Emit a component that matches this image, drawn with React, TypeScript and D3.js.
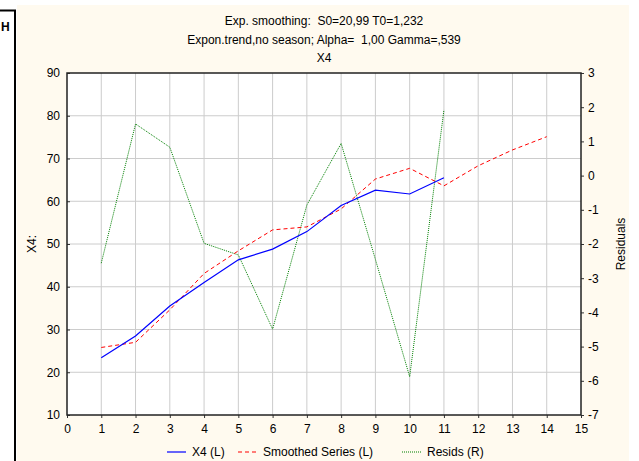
import React, { useEffect, useRef } from 'react';
import * as d3 from 'd3';

// Chart data
const periods: number[] = [1, 2, 3, 4, 5, 6, 7, 8, 9, 10, 11, 12, 13, 14];
const x4Values: number[] = [23.4, 28.5, 35.5, 41.0, 46.3, 48.8, 52.9, 59.0, 62.6, 61.7, 65.5];
const smoothedValues: number[] = [25.8, 27.0, 34.6, 43.1, 48.4, 53.3, 54.0, 58.2, 65.2, 67.7, 63.6, 68.3, 72.0, 75.1];
const residValues: number[] = [-2.56, 1.51, 0.83, -1.98, -2.32, -4.49, -0.86, 0.94, -2.45, -5.88, 1.92];

const xTicks: number[] = [0, 1, 2, 3, 4, 5, 6, 7, 8, 9, 10, 11, 12, 13, 14, 15];
const leftTicks: number[] = [10, 20, 30, 40, 50, 60, 70, 80, 90];
const rightTicks: number[] = [-7, -6, -5, -4, -3, -2, -1, 0, 1, 2, 3];

const titleLines: string[] = [
  'Exp. smoothing:  S0=20,99 T0=1,232',
  'Expon.trend,no season; Alpha=  1,00 Gamma=,539',
  'X4',
];

const legendItems = [
  { label: 'X4 (L)', color: '#0000ff', dash: null as string | null },
  { label: 'Smoothed Series (L)', color: '#ff0000', dash: '4,3' },
  { label: 'Resids (R)', color: '#008000', dash: '1,1' },
];

const App = () => {
  const svgRef = useRef<SVGSVGElement>(null);

  useEffect(() => {
    document.body.style.margin = '0';
    if (!svgRef.current) return;

    const svg = d3.select(svgRef.current);
    svg.selectAll('*').remove();

    const width = 639;
    const height = 461;
    const margin = { top: 73, right: 58, bottom: 46, left: 67 };
    const font = '"Liberation Sans", Arial, sans-serif';
    const plain = (d: d3.NumberValue) => String(d); // hyphen minus, like the original

    svg.attr('width', width).attr('height', height)
      .style('font-family', font);

    // Window frame on the left
    svg.append('rect')
      .attr('x', 0).attr('y', 0).attr('width', width).attr('height', height)
      .attr('fill', '#ffffff');
    svg.append('rect')
      .attr('x', 17).attr('y', 5).attr('width', 612).attr('height', height - 5)
      .attr('fill', '#fffaef');
    svg.append('path')
      .attr('d', `M0,10.5 H15 V${height}`)
      .attr('fill', 'none')
      .attr('stroke', '#000')
      .attr('stroke-width', 2);
    svg.append('text')
      .attr('x', 1).attr('y', 31)
      .style('font-size', '12px')
      .style('font-weight', 'bold')
      .text('H');

    const chartWidth = width - margin.left - margin.right;
    const chartHeight = height - margin.top - margin.bottom;

    const g = svg.append('g')
      .attr('transform', `translate(${margin.left},${margin.top})`);

    // Scales
    const xScale = d3.scaleLinear().domain([0, 15]).range([0, chartWidth]);
    const yLeft = d3.scaleLinear().domain([10, 90]).range([chartHeight, 0]);
    const yRight = d3.scaleLinear().domain([-7, 3]).range([chartHeight, 0]);

    g.append('rect')
      .attr('width', chartWidth).attr('height', chartHeight)
      .attr('fill', '#ffffff');

    // Grid
    g.selectAll('.vgrid')
      .data(xTicks.slice(1, -1))
      .join('line')
      .attr('class', 'vgrid')
      .attr('x1', d => xScale(d)).attr('x2', d => xScale(d))
      .attr('y1', 0).attr('y2', chartHeight)
      .attr('stroke', '#cccccc');

    g.selectAll('.hgrid')
      .data(leftTicks.slice(1, -1))
      .join('line')
      .attr('class', 'hgrid')
      .attr('x1', 0).attr('x2', chartWidth)
      .attr('y1', d => yLeft(d)).attr('y2', d => yLeft(d))
      .attr('stroke', '#cccccc');

    // Axes
    g.append('g')
      .attr('transform', `translate(0,${chartHeight})`)
      .call(d3.axisBottom(xScale).tickValues(xTicks).tickFormat(plain).tickSize(3).tickPadding(6))
      .call(ax => ax.select('.domain').remove());

    g.append('g')
      .call(d3.axisLeft(yLeft).tickValues(leftTicks).tickFormat(plain).tickSize(-3).tickPadding(7))
      .call(ax => ax.select('.domain').remove());

    g.append('g')
      .attr('transform', `translate(${chartWidth},0)`)
      .call(d3.axisRight(yRight).tickValues(rightTicks).tickFormat(plain).tickSize(3).tickPadding(4))
      .call(ax => ax.select('.domain').remove());

    g.selectAll('.tick text')
      .style('font-size', '12px')
      .style('font-family', font)
      .attr('fill', '#000');
    g.selectAll('.tick line').attr('stroke', '#333');

    // Frame
    g.append('rect')
      .attr('width', chartWidth).attr('height', chartHeight)
      .attr('fill', 'none')
      .attr('stroke', '#222')
      .attr('stroke-width', 1.5);

    // Series
    const lineLeft = d3.line<number>()
      .x((d, i) => xScale(periods[i]))
      .y(d => yLeft(d));
    const lineRight = d3.line<number>()
      .x((d, i) => xScale(periods[i]))
      .y(d => yRight(d));

    g.append('path')
      .datum(residValues)
      .attr('d', lineRight)
      .attr('fill', 'none')
      .attr('stroke', '#008000')
      .attr('stroke-width', 1)
      .attr('stroke-dasharray', '1,1');

    g.append('path')
      .datum(smoothedValues)
      .attr('d', lineLeft)
      .attr('fill', 'none')
      .attr('stroke', '#ff0000')
      .attr('stroke-width', 1)
      .attr('stroke-dasharray', '4,3');

    g.append('path')
      .datum(x4Values)
      .attr('d', lineLeft)
      .attr('fill', 'none')
      .attr('stroke', '#0000ff')
      .attr('stroke-width', 1.2);

    // Titles
    svg.selectAll('.title')
      .data(titleLines)
      .join('text')
      .attr('class', 'title')
      .attr('x', margin.left + chartWidth / 2)
      .attr('y', (d, i) => 25 + i * 18.5)
      .attr('text-anchor', 'middle')
      .style('font-size', '12px')
      .style('white-space', 'pre')
      .text(d => d);

    // Axis titles
    svg.append('text')
      .attr('transform', `translate(36,${margin.top + chartHeight / 2}) rotate(-90)`)
      .attr('text-anchor', 'middle')
      .style('font-size', '12px')
      .text('X4:');

    svg.append('text')
      .attr('transform', `translate(625,${margin.top + chartHeight / 2}) rotate(-90)`)
      .attr('text-anchor', 'middle')
      .style('font-size', '12px')
      .text('Residuals');

    // Legend
    const legendX = [167, 238, 402];
    const legend = svg.append('g').attr('transform', 'translate(0,452)');
    legendItems.forEach((item, i) => {
      const lx = legendX[i];
      legend.append('line')
        .attr('x1', lx).attr('x2', lx + 19)
        .attr('y1', 0).attr('y2', 0)
        .attr('stroke', item.color)
        .attr('stroke-width', 1.2)
        .attr('stroke-dasharray', item.dash ?? null);
      legend.append('text')
        .attr('x', lx + 25)
        .attr('y', 4)
        .style('font-size', '12px')
        .text(item.label);
    });
  }, []);

  return <svg ref={svgRef} style={{ display: 'block' }} />;
};

export default App;
